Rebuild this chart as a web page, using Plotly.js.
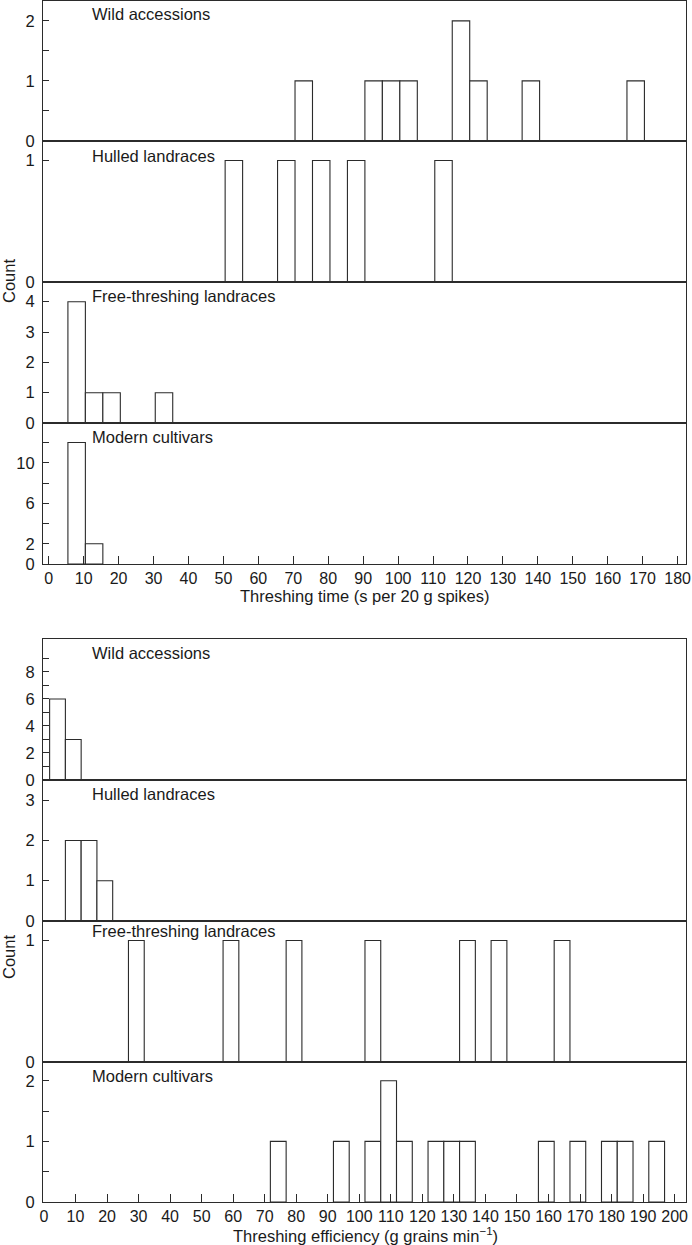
<!DOCTYPE html>
<html>
<head>
<meta charset="utf-8">
<script src="https://cdn.plot.ly/plotly-3.0.1.min.js"></script>
<style>html,body{margin:0;padding:0;background:#fff;}#chart{width:692px;height:1245px;}</style>
</head>
<body>
<div id="chart"></div>
<script>
// ---------- DATA ----------
// Panel labels
const groups = ['Wild accessions', 'Hulled landraces', 'Free-threshing landraces', 'Modern cultivars'];

// Threshing time (s per 20 g spikes): 5-unit bins, bin centres and counts
const timeWildX    = [73, 93, 98, 103, 118, 123, 138, 168];
const timeWildN    = [1, 1, 1, 1, 2, 1, 1, 1];
const timeHulledX  = [53, 68, 78, 88, 113];
const timeHulledN  = [1, 1, 1, 1, 1];
const timeFreeX    = [8, 13, 18, 33];
const timeFreeN    = [4, 1, 1, 1];
const timeModernX  = [8, 13];
const timeModernN  = [12, 2];

// Threshing efficiency (g grains min-1): 5-unit bins, bin centres and counts
const effWildX     = [4.3, 9.3];
const effWildN     = [6, 3];
const effHulledX   = [9.3, 14.3, 19.3];
const effHulledN   = [2, 2, 1];
const effFreeX     = [29.3, 59.3, 79.3, 104.3, 134.3, 144.3, 164.3];
const effFreeN     = [1, 1, 1, 1, 1, 1, 1];
const effModernX   = [74.3, 94.3, 104.3, 109.3, 114.3, 124.3, 129.3, 134.3, 159.3, 169.3, 179.3, 184.3, 194.3];
const effModernN   = [1, 1, 1, 2, 1, 1, 1, 1, 1, 1, 1, 1, 1];

const binWidth = 5;

// Tick values (labelled) and unlabelled minor ticks
const timeXTicks = [0,10,20,30,40,50,60,70,80,90,100,110,120,130,140,150,160,170,180];
const effXTicks  = [0,10,20,30,40,50,60,70,80,90,100,110,120,130,140,150,160,170,180,190,200];

const tvTimeWild   = [0, 1, 2];
const mnTimeWild   = [0.5, 1.5];
const tvTimeHulled = [0, 1];
const mnTimeHulled = [];
const tvTimeFree   = [0, 1, 2, 3, 4];
const mnTimeFree   = [];
const tvTimeModern = [0, 2, 6, 10];
const mnTimeModern = [4, 8, 12];

const tvEffWild    = [0, 2, 4, 6, 8];
const mnEffWild    = [1, 3, 5, 7, 9];
const tvEffHulled  = [0, 1, 2, 3];
const mnEffHulled  = [];
const tvEffFree    = [0, 1];
const mnEffFree    = [];
const tvEffModern  = [0, 1, 2];
const mnEffModern  = [0.5, 1.5];

const xTitleTime = 'Threshing time (s per 20 g spikes)';
const xTitleEff  = 'Threshing efficiency (g grains min<sup>\u22121</sup>)';
const yTitle = 'Count';

// ---------- LAYOUT ----------
const W = 692, H = 1245;
const M = {l: 43, r: 6, t: 1, b: 43};
const plotTop = M.t, plotBot = H - M.b, plotH = plotBot - plotTop;
const py = p => (plotBot - p) / plotH; // pixel -> paper y
const px = p => (p - M.l) / (W - M.l - M.r);

const LINE = '#2b2b2b';
const TXT = '#1a1a1a';
const FONT = 'Liberation Sans, Arial, Helvetica, sans-serif';
const FS = 16.5;

const panels = [
  {x: timeWildX,   n: timeWildN,   g: 0, px: [1, 141],     yr: [0, 2.33], tv: tvTimeWild,   mn: mnTimeWild,   xr: [-1.63, 182.4], lab: 14.3},
  {x: timeHulledX, n: timeHulledN, g: 1, px: [141, 282],   yr: [0, 1.16], tv: tvTimeHulled, mn: mnTimeHulled, xr: [-1.63, 182.4], lab: 156},
  {x: timeFreeX,   n: timeFreeN,   g: 2, px: [282, 423],   yr: [0, 4.65], tv: tvTimeFree,   mn: mnTimeFree,   xr: [-1.63, 182.4], lab: 295.5},
  {x: timeModernX, n: timeModernN, g: 3, px: [423, 564],   yr: [0, 13.93], tv: tvTimeModern, mn: mnTimeModern, xr: [-1.63, 182.4], lab: 437, xt: timeXTicks},
  {x: effWildX,    n: effWildN,    g: 0, px: [639, 780],   yr: [0, 10.44], tv: tvEffWild,    mn: mnEffWild,    xr: [-0.3, 203.6], lab: 652.7},
  {x: effHulledX,  n: effHulledN,  g: 1, px: [780, 921],   yr: [0, 3.5],  tv: tvEffHulled,  mn: mnEffHulled,  xr: [-0.3, 203.6], lab: 794.4},
  {x: effFreeX,    n: effFreeN,    g: 2, px: [921, 1062],  yr: [0, 1.16], tv: tvEffFree,    mn: mnEffFree,    xr: [-0.3, 203.6], lab: 931},
  {x: effModernX,  n: effModernN,  g: 3, px: [1062, 1202], yr: [0, 2.31], tv: tvEffModern,  mn: mnEffModern,  xr: [-0.3, 203.6], lab: 1076, xt: effXTicks}
];

const data = [];
const layout = {
  width: W, height: H,
  margin: M,
  paper_bgcolor: '#fff', plot_bgcolor: '#fff',
  showlegend: false,
  font: {family: FONT, size: FS, color: TXT},
  annotations: []
};

panels.forEach((p, i) => {
  const k = i + 1;
  const xa = 'x' + (k === 1 ? '' : k), ya = 'y' + (k === 1 ? '' : k);
  data.push({
    type: 'bar', x: p.x, y: p.n, width: binWidth,
    xaxis: xa, yaxis: ya,
    marker: {color: '#fff', line: {color: LINE, width: 1.1}},
    hoverinfo: 'x+y'
  });
  const xKey = 'xaxis' + (k === 1 ? '' : k), yKey = 'yaxis' + (k === 1 ? '' : k);
  const isBottom = !!p.xt;
  layout[xKey] = {
    domain: [0, 1], anchor: ya, range: p.xr,
    showline: true, linecolor: LINE, linewidth: 1.1, mirror: true,
    showgrid: false, zeroline: false,
    ticks: isBottom ? 'inside' : '', ticklen: 8, tickwidth: 1, tickcolor: LINE,
    tickmode: 'array', tickvals: isBottom ? p.xt : [],
    showticklabels: isBottom, ticklabelstandoff: 0,
    tickfont: {family: FONT, size: 16, color: TXT},
    fixedrange: true
  };
  const yAx = {
    domain: [py(p.px[1]), py(p.px[0])], anchor: xa, range: p.yr,
    showline: true, linecolor: LINE, linewidth: 1.1, mirror: true,
    showgrid: false, zeroline: false,
    ticks: 'inside', ticklen: 6, tickwidth: 1, tickcolor: LINE,
    tickmode: 'array', tickvals: p.tv,
    ticklabelstandoff: 4,
    tickfont: {family: FONT, size: FS, color: TXT},
    fixedrange: true
  };
  if (p.mn.length) {
    yAx.minor = {tickmode: 'array', tickvals: p.mn, ticks: 'inside', ticklen: 6, tickwidth: 1, tickcolor: LINE, showgrid: false};
  }
  layout[yKey] = yAx;
  layout.annotations.push({
    xref: 'paper', yref: 'paper', x: px(90), y: py(p.lab),
    xanchor: 'left', yanchor: 'middle', showarrow: false,
    text: groups[p.g], font: {family: FONT, size: FS, color: TXT}
  });
});

// Axis titles
layout.annotations.push({
  xref: 'paper', yref: 'paper', x: px(364), y: py(596), xanchor: 'center', yanchor: 'middle',
  showarrow: false, text: xTitleTime, font: {family: FONT, size: FS, color: TXT}
});
layout.annotations.push({
  xref: 'paper', yref: 'paper', x: px(365), y: py(1235), xanchor: 'center', yanchor: 'middle',
  showarrow: false, text: xTitleEff, font: {family: FONT, size: FS, color: TXT}
});
layout.annotations.push({
  xref: 'paper', yref: 'paper', x: px(9), y: py(281), xanchor: 'center', yanchor: 'middle',
  showarrow: false, textangle: -90, text: yTitle, font: {family: FONT, size: FS, color: TXT}
});
layout.annotations.push({
  xref: 'paper', yref: 'paper', x: px(9), y: py(957), xanchor: 'center', yanchor: 'middle',
  showarrow: false, textangle: -90, text: yTitle, font: {family: FONT, size: FS, color: TXT}
});

Plotly.newPlot('chart', data, layout, {displayModeBar: false, staticPlot: true});
</script>
</body>
</html>
